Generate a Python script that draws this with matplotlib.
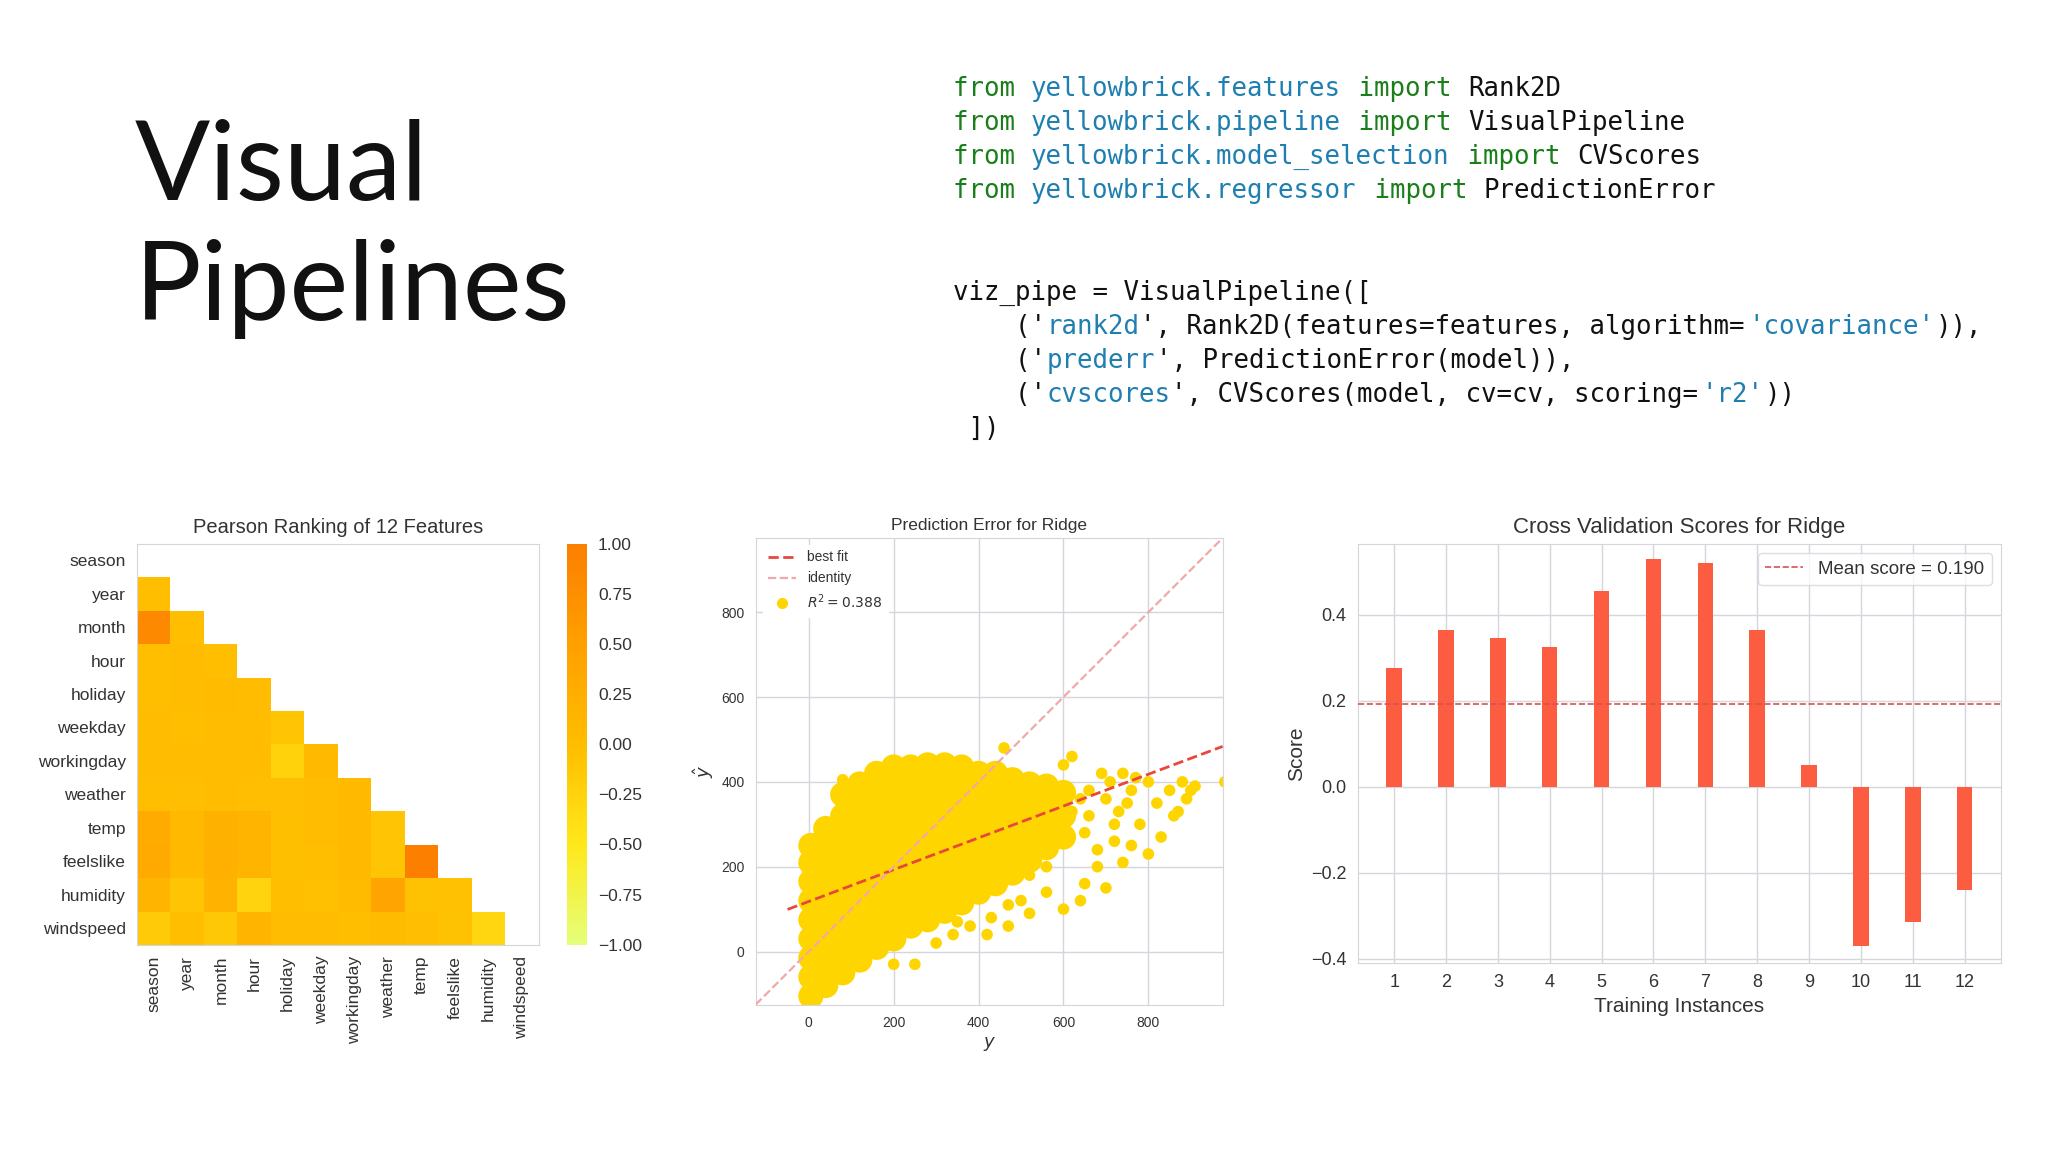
import numpy as np
import matplotlib
matplotlib.use("Agg")
import matplotlib.pyplot as plt
from matplotlib.lines import Line2D

plt.rcParams['font.family'] = ['Liberation Sans', 'DejaVu Sans']

# ---------------- data ----------------
features = ["season", "year", "month", "hour", "holiday", "weekday",
            "workingday", "weather", "temp", "feelslike", "humidity", "windspeed"]
corr_rows = [
    [],
    [-0.01],
    [0.83, -0.01],
    [-0.01, -0.00, -0.01],
    [-0.01, 0.01, 0.02, -0.00],
    [0.00, -0.01, 0.01, -0.00, -0.10],
    [0.01, 0.00, -0.00, 0.00, -0.25, 0.04],
    [-0.01, -0.02, 0.01, -0.02, -0.02, 0.00, 0.04],
    [0.31, 0.04, 0.20, 0.14, -0.03, -0.00, 0.05, -0.10],
    [0.32, 0.04, 0.21, 0.13, -0.03, -0.01, 0.05, -0.10, 0.99],
    [0.15, -0.08, 0.16, -0.28, -0.01, -0.04, 0.02, 0.42, -0.07, -0.05],
    [-0.15, -0.01, -0.14, 0.14, 0.00, 0.01, -0.01, 0.03, -0.02, -0.06, -0.29],
]

# prediction error: dense core (blob centres)
core_y = ([5]*9 + [40]*9 + [80]*10 + [120]*10 + [160]*10 + [200]*10 + [240]*9 + [280]*9 +
          [320]*9 + [360]*8 + [400]*7 + [440]*7 + [480]*6 + [520]*5 + [560]*4 + [600]*3)
core_yhat = [-105, -60, -15, 30, 75, 120, 165, 210, 250,
             -80, -35, 10, 55, 100, 145, 190, 240, 290,
             -50, -5, 40, 85, 130, 175, 220, 265, 320, 370,
             -20, 25, 70, 115, 160, 205, 250, 300, 350, 395,
             10, 55, 100, 145, 190, 235, 280, 330, 380, 420,
             30, 75, 120, 165, 210, 255, 300, 350, 400, 435,
             60, 105, 150, 195, 240, 290, 340, 390, 435,
             75, 120, 165, 210, 255, 300, 350, 400, 440,
             95, 140, 185, 230, 275, 320, 365, 405, 440,
             115, 160, 205, 250, 300, 350, 400, 435,
             140, 185, 230, 280, 330, 380, 420,
             160, 205, 250, 295, 340, 385, 420,
             185, 230, 275, 320, 365, 405,
             215, 260, 305, 350, 395,
             245, 290, 340, 390,
             270, 320, 375]
sparse_y = [80, 460, 620, 600, 690, 700, 730, 760, 800, 780, 850, 880, 900, 860, 830,
            700, 650, 640, 600, 560, 520, 470, 420, 380, 300, 250, 200, 980, 650,
            720, 740, 680, 820, 760, 560, 520, 500, 640, 660, 710, 740, 770, 800, 620,
            580, 910, 870, 890, 750, 720, 680, 660, 470, 430, 350, 340]
sparse_yhat = [405, 480, 460, 440, 420, 360, 330, 250, 230, 300, 380, 400, 380, 320, 270,
               150, 160, 120, 100, 140, 90, 60, 40, 60, 20, -30, -30, 400, 280,
               260, 210, 200, 350, 380, 200, 180, 120, 360, 380, 400, 420, 410, 400, 330,
               300, 390, 330, 360, 350, 300, 240, 320, 110, 80, 70, 40]
fit_slope = 0.375
fit_intercept = 118
r2 = 0.388

folds = list(range(1, 13))
cv_scores = [0.275, 0.365, 0.345, 0.325, 0.455, 0.53, 0.52, 0.365, 0.05, -0.37, -0.315, -0.24]

# ---------------- figure ----------------
fig = plt.figure(figsize=(20.48, 11.52), dpi=100)
fig.patch.set_facecolor("white")

for txt, yy in [("Visual", 0.826), ("Pipelines", 0.722)]:
    fig.text(0.066, yy, txt, fontsize=80, family=['Lato', 'DejaVu Sans'], color="#111111")

green, blue, black = "#1a7f1a", "#1f7fb0", "#111111"
mono = ['DejaVu Sans Mono']
code = [
    [("from ", green), ("yellowbrick.features", blue), (" import ", green), ("Rank2D", black)],
    [("from ", green), ("yellowbrick.pipeline", blue), (" import ", green), ("VisualPipeline", black)],
    [("from ", green), ("yellowbrick.model_selection", blue), (" import ", green), ("CVScores", black)],
    [("from ", green), ("yellowbrick.regressor", blue), (" import ", green), ("PredictionError", black)],
    [],
    [],
    [("viz_pipe = VisualPipeline([", black)],
    [("    ('", black), ("rank2d", blue), ("', Rank2D(features=features, algorithm=", black), ("'covariance'", blue), (")),", black)],
    [("    ('", black), ("prederr", blue), ("', PredictionError(model)),", black)],
    [("    ('", black), ("cvscores", blue), ("', CVScores(model, cv=cv, scoring=", black), ("'r2'", blue), ("))", black)],
    [(" ])", black)],
]
fs = 18.5
charw = 15.6 / 2048
x0, y0, dy = 953 / 2048, 1 - 89 / 1152, 34 / 1152
for i, line in enumerate(code):
    col = 0
    for txt, c in line:
        fig.text(x0 + col * charw, y0 - i * dy, txt, fontsize=fs, family=mono, color=c, va="center")
        col += len(txt)

tick_c = "#333333"
grid_c = "#d5d5dc"

# ---- heatmap ----
n = len(features)
mat = np.full((n, n), np.nan)
for i, row in enumerate(corr_rows):
    for j, v in enumerate(row):
        mat[i, j] = v
ax1 = fig.add_axes([0.067, 0.180, 0.196, 0.348])
im = ax1.imshow(np.ma.masked_invalid(mat), cmap="Wistia", vmin=-1, vmax=1, aspect="auto",
                interpolation="nearest")
ax1.set_xticks(range(n))
ax1.set_xticklabels(features, rotation=90, fontsize=12.5, color=tick_c)
ax1.set_yticks(range(n))
ax1.set_yticklabels(features, fontsize=12.5, color=tick_c)
ax1.tick_params(length=0, pad=8)
for s in ax1.spines.values():
    s.set_color(grid_c)
ax1.set_title("Pearson Ranking of 12 Features", fontsize=14.5, color=tick_c, pad=8)
cax = fig.add_axes([0.277, 0.180, 0.0096, 0.348])
cb = fig.colorbar(im, cax=cax)
cticks = [-1, -0.75, -0.5, -0.25, 0, 0.25, 0.5, 0.75, 1]
cb.set_ticks(cticks)
cb.ax.set_yticklabels([f"{t:.2f}".replace("-", "\u2212") for t in cticks])
cb.ax.tick_params(length=0, labelsize=12.5, labelcolor=tick_c, pad=8)
cb.outline.set_visible(False)

# ---- prediction error ----
ax2 = fig.add_axes([0.369, 0.128, 0.228, 0.405])
ax2.set_axisbelow(True)
ax2.grid(True, color=grid_c, lw=1)
gold = "#ffd500"
ax2.scatter(core_y, core_yhat, s=330, color=gold, edgecolors="none", zorder=2)
ax2.scatter(sparse_y, sparse_yhat, s=70, color=gold, edgecolors="none", zorder=2)
lim = (-125, 975)
ax2.set_xlim(lim)
ax2.set_ylim(lim)
xs = np.array([-50, 975])
ax2.plot(xs, fit_intercept + fit_slope * xs, "--", color="#e8483c", lw=2, zorder=3)
ax2.plot(lim, lim, "--", color="#f0a8a8", lw=1.6, zorder=3)
ax2.set_xticks([0, 200, 400, 600, 800])
ax2.set_yticks([0, 200, 400, 600, 800])
ax2.tick_params(length=0, labelsize=10, labelcolor=tick_c, pad=8)
ax2.set_xlabel("$y$", fontsize=13, color=tick_c)
ax2.set_ylabel(r"$\hat{y}$", fontsize=13, color=tick_c)
ax2.set_title("Prediction Error for Ridge", fontsize=12.5, color=tick_c, pad=6)
for s in ax2.spines.values():
    s.set_color(grid_c)
handles = [Line2D([], [], ls="--", color="#e8483c", lw=2),
           Line2D([], [], ls="--", color="#f0a8a8", lw=1.6),
           Line2D([], [], ls="", marker="o", color=gold, ms=7)]
ax2.legend(handles, ["best fit", "identity", f"$R^2 = {r2:.3f}$"], loc="upper left",
           fontsize=10, frameon=True, facecolor="white", edgecolor="white", framealpha=1,
           labelcolor=tick_c)

# ---- cv scores ----
ax3 = fig.add_axes([0.663, 0.164, 0.314, 0.364])
ax3.set_axisbelow(True)
ax3.grid(True, color=grid_c, lw=1)
ax3.bar(folds, cv_scores, width=0.3, color="#fc5c3f", zorder=2)
mean = np.mean(cv_scores)
ax3.axhline(mean, ls="--", color="#d9534f", lw=1.2, label="Mean score = 0.190", zorder=3)
ax3.set_xlim(0.3, 12.7)
ax3.set_ylim(-0.41, 0.565)
ax3.set_xticks(folds)
ax3.set_yticks([-0.4, -0.2, 0.0, 0.2, 0.4])
ax3.set_yticklabels(["\u22120.4", "\u22120.2", "0.0", "0.2", "0.4"])
ax3.tick_params(length=0, labelsize=13, labelcolor=tick_c, pad=8)
ax3.set_xlabel("Training Instances", fontsize=15, color=tick_c)
ax3.set_ylabel("Score", fontsize=15, color=tick_c)
ax3.set_title("Cross Validation Scores for Ridge", fontsize=16, color=tick_c, pad=8)
for s in ax3.spines.values():
    s.set_color(grid_c)
ax3.legend(loc="upper right", fontsize=13.5, frameon=True, facecolor="white",
           edgecolor=grid_c, labelcolor=tick_c)

fig.savefig("out.png", dpi=100, facecolor="white")
